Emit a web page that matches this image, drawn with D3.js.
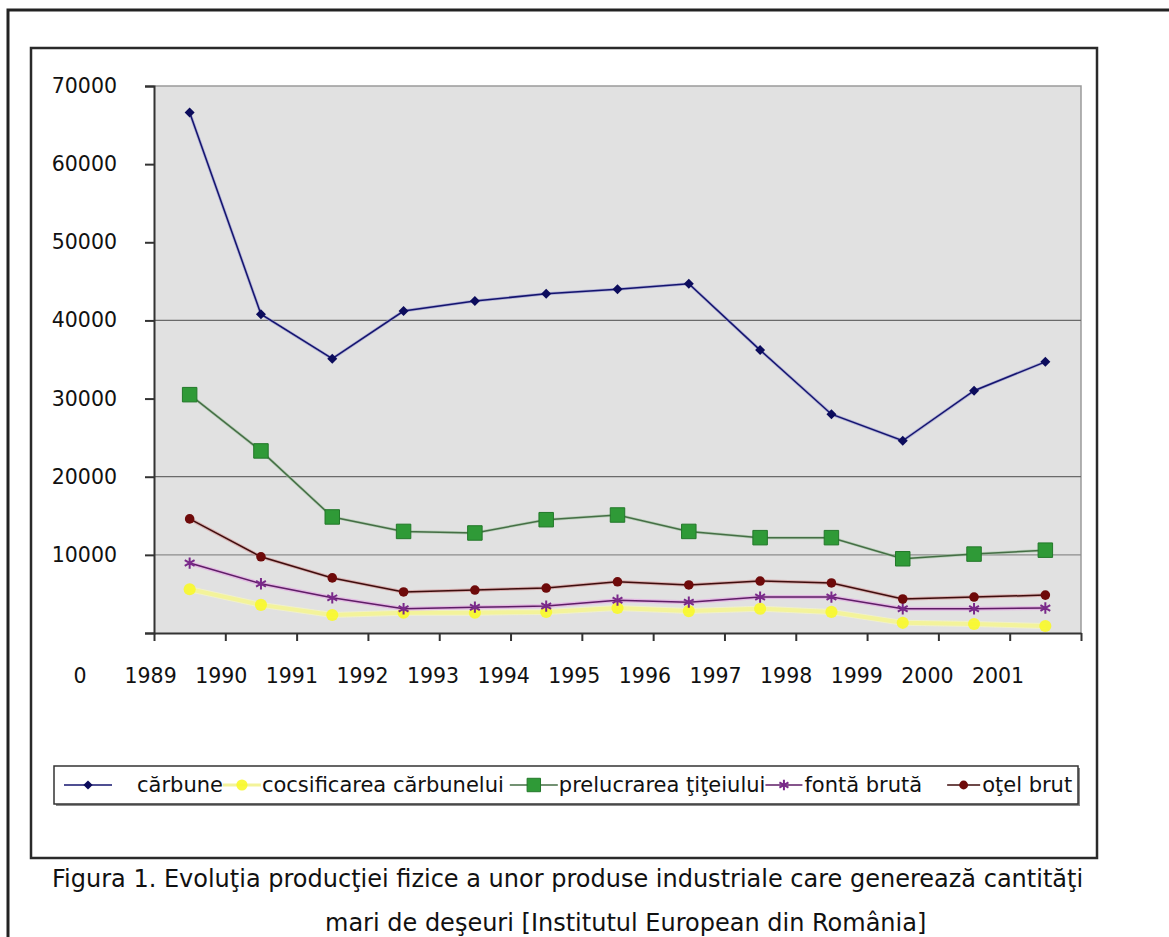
<!DOCTYPE html>
<html>
<head>
<meta charset="utf-8">
<script src="https://cdn.jsdelivr.net/npm/d3@7"></script>
<style>
  body { margin: 0; background: #fff; }
  text { font-family: "DejaVu Sans", Verdana, sans-serif; fill: #111; }
</style>
</head>
<body>
<div id="chart"></div>
<script>
const years = ["1989", "1990", "1991", "1992", "1993", "1994", "1995", "1996", "1997", "1998", "1999", "2000", "2001"];
const carbune = [66600, 40800, 35100, 41200, 42500, 43400, 44000, 44700, 36200, 28000, 24600, 31000, 34700];
const cocsificarea = [5600, 3600, 2300, 2600, 2600, 2700, 3200, 2800, 3100, 2700, 1300, 1150, 900];
const prelucrarea = [30500, 23300, 14850, 13000, 12800, 14500, 15100, 13000, 12200, 12200, 9500, 10100, 10600];
const fonta = [8950, 6300, 4500, 3100, 3300, 3450, 4200, 3950, 4600, 4600, 3100, 3100, 3200];
const otel = [14600, 9750, 7050, 5250, 5500, 5750, 6550, 6150, 6650, 6400, 4350, 4600, 4850];

const yTicks = [0, 10000, 20000, 30000, 40000, 50000, 60000, 70000];
const gridValues = [10000, 20000, 40000];
const xLabels = ["0", "1989", "1990", "1991", "1992", "1993", "1994", "1995", "1996", "1997", "1998", "1999", "2000", "2001"];
const seriesNames = ["cărbune", "cocsificarea cărbunelui", "prelucrarea ţiţeiului", "fontă brută", "oţel brut"];
const captionLines = [
  "Figura 1. Evoluţia producţiei fizice a unor produse industriale care generează cantităţi",
  "mari de deşeuri [Institutul European din România]"
];

const width = 1169;
const height = 937;
const PLOT = {left: 154, top: 86, right: 1081, bottom: 633};

// style per series, same order as seriesNames
const styles = [
  {values: carbune, line: "#14146e", halo: "#9a9ad0", haloW: 3, symbol: "diamond", fill: "#0c0c5c", size: 50},
  {values: cocsificarea, line: "#f3f39a", halo: "#f7f7c0", haloW: 6, symbol: "circle", fill: "#f8f82a", size: 115},
  {values: prelucrarea, line: "#456e45", halo: "#a8c8a8", haloW: 3, symbol: "square", fill: "#2f9a37", size: 210},
  {values: fonta, line: "#5e1d66", halo: "#e2a6e2", haloW: 4, symbol: "asterisk", fill: "#7a2a8a", size: 90},
  {values: otel, line: "#3e0d0d", halo: "#d49a9a", haloW: 3.5, symbol: "circle", fill: "#6e0a0a", size: 72}
];

const svg = d3.select("#chart")
  .append("svg")
  .attr("width", width)
  .attr("height", height)
  .attr("viewBox", `0 0 ${width} ${height}`);

svg.append("rect").attr("width", width).attr("height", height).attr("fill", "#fff");

// outer page frame (left + top only)
svg.append("path")
  .attr("d", `M8,${height} L8,10 L${width},10`)
  .attr("fill", "none")
  .attr("stroke", "#222")
  .attr("stroke-width", 3);

// chart box
svg.append("rect")
  .attr("x", 31).attr("y", 48)
  .attr("width", 1066).attr("height", 810)
  .attr("fill", "none")
  .attr("stroke", "#2a2a2a")
  .attr("stroke-width", 2.5);

const x = d3.scaleBand().domain(years).range([PLOT.left, PLOT.right]);
const xEdge = d3.scaleLinear().domain([0, years.length]).range([PLOT.left, PLOT.right]);
const y = d3.scaleLinear().domain([0, 70000]).range([PLOT.bottom, PLOT.top]);
const cx = d => x(d) + x.bandwidth() / 2;

// plot area
svg.append("rect")
  .attr("x", PLOT.left).attr("y", PLOT.top)
  .attr("width", PLOT.right - PLOT.left).attr("height", PLOT.bottom - PLOT.top)
  .attr("fill", "#e1e1e1");

svg.append("path")
  .attr("d", `M${PLOT.left},${PLOT.top} L${PLOT.right},${PLOT.top} L${PLOT.right},${PLOT.bottom}`)
  .attr("fill", "none")
  .attr("stroke", "#9a9a9a")
  .attr("stroke-width", 1.5);

// gridlines (only some survive in the original)
svg.append("g").selectAll("line")
  .data(gridValues)
  .enter()
  .append("line")
  .attr("x1", PLOT.left).attr("x2", PLOT.right)
  .attr("y1", d => y(d)).attr("y2", d => y(d))
  .attr("stroke", d => d === 10000 ? "#8c8c8c" : "#6a6a6a")
  .attr("stroke-width", 1.2);

// y axis
const yAxis = svg.append("g")
  .attr("transform", `translate(${PLOT.left},0)`)
  .call(d3.axisLeft(y).tickValues(yTicks).tickSize(9).tickPadding(28)
    .tickFormat(d => d === 0 ? "" : d));
yAxis.selectAll("text").attr("font-size", "20.5px").attr("fill", "#111");

// x axis, ticks on band edges
const xAxis = svg.append("g")
  .attr("transform", `translate(0,${PLOT.bottom})`)
  .call(d3.axisBottom(xEdge).ticks(years.length).tickSize(8).tickSizeOuter(0).tickFormat(""));

svg.selectAll(".domain, .tick line").attr("stroke", "#333").attr("stroke-width", 2);

// category label row (offset as in the source figure)
const xLab = d3.scalePoint().domain(xLabels).range([80, 998]);
svg.append("g").selectAll("text")
  .data(xLabels)
  .enter()
  .append("text")
  .attr("x", d => xLab(d))
  .attr("y", 683)
  .attr("text-anchor", "middle")
  .attr("font-size", "20.5px")
  .text(d => d);

const symbolFor = name => {
  if (name === "diamond" || name === "square") return d3.symbolSquare;
  if (name === "asterisk") return d3.symbolAsterisk || d3.symbolTimes;
  return d3.symbolCircle;
};

function drawMarker(sel, s) {
  const path = d3.symbol().type(symbolFor(s.symbol)).size(s.symbol === "diamond" ? s.size : s.size)();
  const m = sel.append("path").attr("d", path);
  if (s.symbol === "asterisk") {
    m.attr("fill", "none").attr("stroke", s.fill).attr("stroke-width", 2);
  } else {
    m.attr("fill", s.fill);
  }
  if (s.symbol === "square") m.attr("stroke", "#23782a").attr("stroke-width", 1);
  if (s.symbol === "circle" && s.fill === "#f8f82a") m.attr("opacity", 0.9);
  return m;
}

const line = d3.line().x((d, i) => cx(years[i])).y(d => y(d));

const series = svg.append("g").selectAll("g")
  .data(styles)
  .enter()
  .append("g");

series.append("path")
  .attr("d", d => line(d.values))
  .attr("fill", "none")
  .attr("stroke", d => d.halo)
  .attr("stroke-width", d => d.haloW)
  .attr("opacity", 0.7);

series.append("path")
  .attr("d", d => line(d.values))
  .attr("fill", "none")
  .attr("stroke", d => d.line)
  .attr("stroke-width", d => d.symbol === "circle" && d.fill === "#f8f82a" ? 4 : 1.5);

series.each(function(s) {
  d3.select(this).selectAll("g.pt")
    .data(s.values)
    .enter()
    .append("g")
    .attr("class", "pt")
    .attr("transform", (d, i) => `translate(${cx(years[i])},${y(d)})${s.symbol === "diamond" ? " rotate(45)" : ""}`)
    .each(function() { drawMarker(d3.select(this), s); });
});

// legend
const legend = svg.append("g");
legend.append("rect")
  .attr("x", 56).attr("y", 768).attr("width", 1024).attr("height", 38)
  .attr("fill", "#8a8a8a");
legend.append("rect")
  .attr("x", 54).attr("y", 766).attr("width", 1024).attr("height", 38)
  .attr("fill", "#fff")
  .attr("stroke", "#333")
  .attr("stroke-width", 1.5);

const lineLen = [48, 38, 48, 37, 33];
const gapBefore = [25, 1, 1, 2, 2];
const gapAfter = [0, 6, 0, 25, 0];
let cursor = 64;
seriesNames.forEach((name, i) => {
  const s = styles[i];
  const item = legend.append("g");
  item.append("line")
    .attr("x1", cursor).attr("x2", cursor + lineLen[i])
    .attr("y1", 785).attr("y2", 785)
    .attr("stroke", s.line)
    .attr("stroke-width", i === 1 ? 3 : 1.5);
  drawMarker(item.append("g")
    .attr("transform", `translate(${cursor + lineLen[i] / 2},785)${s.symbol === "diamond" ? " rotate(45)" : ""}`),
    {...s, size: s.symbol === "square" ? 180 : s.size * 0.85});
  const t = item.append("text")
    .attr("x", cursor + lineLen[i] + gapBefore[i])
    .attr("y", 792)
    .attr("font-size", "21px")
    .text(name);
  cursor = cursor + lineLen[i] + gapBefore[i] + t.node().getComputedTextLength() + gapAfter[i];
});

// caption
svg.append("g").selectAll("text")
  .data(captionLines)
  .enter()
  .append("text")
  .attr("x", (d, i) => i === 0 ? 52 : 325)
  .attr("y", (d, i) => 887 + i * 44)
  .attr("font-size", "24px")
  .text(d => d);
</script>
</body>
</html>
